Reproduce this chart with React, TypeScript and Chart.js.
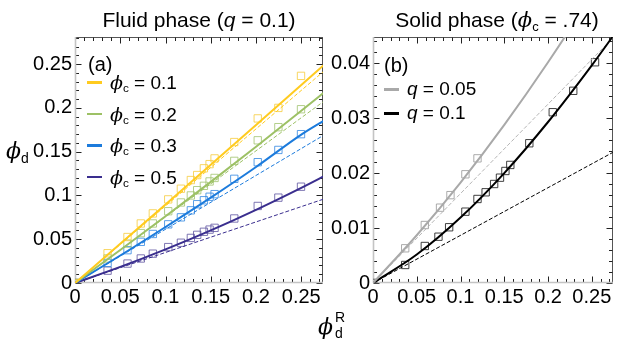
import React, { useEffect, useRef } from "react";
import { Chart, registerables } from "chart.js";

Chart.register(...registerables);

const FONT = '"Liberation Sans", Arial, sans-serif';

// ---------- Panel (a): fluid phase ----------
const xFluid = [0, 0.036, 0.058, 0.0727, 0.086, 0.103, 0.117, 0.128, 0.135, 0.1424, 0.1487, 0.1542, 0.176, 0.2019, 0.2247, 0.2497];
const yPhiC01 = [0, 0.034, 0.0525, 0.068, 0.0795, 0.0955, 0.1077, 0.1176, 0.1233, 0.131, 0.1358, 0.1423, 0.161, 0.188, 0.2, 0.2366];
const yPhiC02 = [0, 0.028, 0.045, 0.057, 0.068, 0.082, 0.092, 0.1, 0.106, 0.111, 0.116, 0.12, 0.1395, 0.163, 0.178, 0.1985];
const yPhiC03 = [0, 0.023, 0.0375, 0.047, 0.056, 0.067, 0.075, 0.083, 0.09, 0.0945, 0.0985, 0.1015, 0.119, 0.138, 0.152, 0.17];
const yPhiC05 = [0, 0.0141, 0.0222, 0.028, 0.0335, 0.041, 0.046, 0.0515, 0.055, 0.0585, 0.061, 0.063, 0.0737, 0.088, 0.0975, 0.11];

const xFitA = [0, 0.05, 0.1, 0.15, 0.2, 0.25, 0.28];
const fitPhiC01 = [0, 0.0448, 0.0898, 0.135, 0.1805, 0.2262, 0.2537];
const fitPhiC02 = [0, 0.0377, 0.0762, 0.1155, 0.1557, 0.1967, 0.2217];
const fitPhiC03 = [0, 0.0314, 0.064, 0.0975, 0.1325, 0.1695, 0.1885];
const fitPhiC05 = [0, 0.01835, 0.0384, 0.0601, 0.0836, 0.1087, 0.1246];

const xLin = [0, 0.28];
const linPhiC01 = [0, 0.2464];
const linPhiC02 = [0, 0.2114];
const linPhiC03 = [0, 0.172];
const linPhiC05 = [0, 0.0977];

// ---------- Panel (b): solid phase ----------
const xSolid = [0, 0.0368, 0.0592, 0.0748, 0.087, 0.1056, 0.1194, 0.1287, 0.1384, 0.1451, 0.1513, 0.1569, 0.1786, 0.2054, 0.2288, 0.2537];
const yQ01 = [0, 0.00328, 0.00674, 0.00843, 0.01015, 0.01299, 0.0153, 0.01652, 0.01803, 0.01918, 0.0204, 0.0215, 0.02545, 0.0311, 0.035, 0.0402];
const xQ005 = [0, 0.0368, 0.0592, 0.0766, 0.0885, 0.1056, 0.1194];
const yQ005 = [0, 0.00632, 0.01056, 0.01372, 0.016, 0.0198, 0.0227];

const xFitB = [0, 0.05, 0.1, 0.15, 0.2, 0.25, 0.28];
const fitQ01 = [0, 0.00518, 0.01192, 0.02002, 0.02932, 0.03964, 0.04625];
const fitQ005 = [0, 0.0087, 0.0183, 0.0288, 0.0402, 0.0525, 0.0606];
const linQ01 = [0, 0.0243];
const linQ005 = [0, 0.0456];

const COLORS = {
  c01: "#FFCB1F",
  c02: "#9DC165",
  c03: "#1C7BDC",
  c05: "#3A2E8E",
  c01m: "rgba(246,204,60,0.8)",
  c02m: "rgba(160,195,110,0.8)",
  c03m: "rgba(50,135,225,0.8)",
  c05m: "rgba(95,85,160,0.8)",
  gray: "#A9A9A9",
  grayDash: "#B5B5B5",
  grayM: "rgba(150,150,150,0.8)",
  black: "#000000",
  blackM: "rgba(30,30,30,0.85)",
};

const pts = (xs: number[], ys: number[]) => xs.map((x, i) => ({ x, y: ys[i] }));

function scatterDs(xs: number[], ys: number[], color: string) {
  return {
    type: "scatter" as const,
    data: pts(xs, ys),
    showLine: false,
    pointStyle: "rect",
    pointRadius: 5.2,
    pointBorderWidth: 1,
    pointBorderColor: color,
    pointBackgroundColor: "rgba(0,0,0,0)",
    order: 2,
  };
}

function lineDs(xs: number[], ys: number[], color: string, width: number, dash: number[], smooth: boolean) {
  return {
    type: "line" as const,
    data: pts(xs, ys),
    borderColor: color,
    borderWidth: width,
    borderDash: dash,
    pointRadius: 0,
    fill: false,
    tension: 0,
    cubicInterpolationMode: smooth ? "monotone" : "default",
    order: 1,
  };
}

const fmt = (v: any) => String(Number(Number(v).toFixed(4)));

const framePlugin = {
  id: "frame",
  beforeDatasetsDraw(chart: any, _args: any, opts: any) {
    const { ctx, chartArea: a, scales } = chart;
    const xs = scales.x;
    const ys = scales.y;
    const L = Math.round(a.left) + 0.5;
    const R = Math.round(a.right) - 0.5;
    const T = Math.round(a.top) + 0.5;
    const B = Math.round(a.bottom) - 0.5;
    ctx.save();
    ctx.strokeStyle = "#555";
    ctx.lineWidth = 1;
    ctx.strokeRect(L, T, R - L, B - T);
    ctx.strokeStyle = "#222";
    const drawTicks = (scale: any, minor: number, major: number, max: number, horiz: boolean) => {
      const n = Math.floor(max / minor + 1e-6);
      for (let i = 0; i <= n; i++) {
        const v = i * minor;
        const isMajor = Math.abs(v / major - Math.round(v / major)) < 1e-6;
        const len = isMajor ? 6 : 3.5;
        const p = Math.round(scale.getPixelForValue(v)) + 0.5;
        ctx.beginPath();
        if (horiz) {
          ctx.moveTo(p, B); ctx.lineTo(p, B - len);
          ctx.moveTo(p, T); ctx.lineTo(p, T + len);
        } else {
          ctx.moveTo(L, p); ctx.lineTo(L + len, p);
          ctx.moveTo(R, p); ctx.lineTo(R - len, p);
        }
        ctx.stroke();
      }
    };
    drawTicks(xs, opts.xMinor, opts.xMajor, xs.max, true);
    drawTicks(ys, opts.yMinor, opts.yMajor, ys.max, false);
    ctx.strokeStyle = "#C4C4C4";
    ctx.lineWidth = 1.6;
    const x0 = xs.getPixelForValue(0);
    const y0 = ys.getPixelForValue(0);
    ctx.beginPath();
    ctx.moveTo(x0 + 0.5, a.top);
    ctx.lineTo(x0 + 0.5, a.bottom);
    ctx.moveTo(a.left, y0 - 0.5);
    ctx.lineTo(a.right, y0 - 0.5);
    ctx.stroke();
    ctx.restore();
  },
};

function makeOptions(p: {
  padRight: number; yWidth: number; xMax: number; yMax: number; yStep: number;
  xMinor: number; xMajor: number; yMinor: number; yMajor: number;
}) {
  const tickFont = { family: FONT, size: 20 };
  return {
    animation: false,
    responsive: false,
    maintainAspectRatio: false,
    devicePixelRatio: 1,
    events: [],
    layout: { padding: { top: 37, right: p.padRight, left: 0, bottom: 0 } },
    plugins: {
      legend: { display: false },
      tooltip: { enabled: false },
      title: { display: false },
      frame: { xMinor: p.xMinor, xMajor: p.xMajor, yMinor: p.yMinor, yMajor: p.yMajor },
    },
    scales: {
      x: {
        type: "linear",
        min: 0,
        max: p.xMax,
        border: { display: false },
        grid: { display: false, drawTicks: false },
        ticks: {
          stepSize: 0.05,
          includeBounds: false,
          callback: fmt,
          color: "#000",
          font: tickFont,
          padding: 2,
          maxRotation: 0,
          autoSkip: false,
        },
        afterFit: (s: any) => { s.height = 58; },
      },
      y: {
        type: "linear",
        min: 0,
        max: p.yMax,
        border: { display: false },
        grid: { display: false, drawTicks: false },
        ticks: {
          stepSize: p.yStep,
          includeBounds: false,
          callback: fmt,
          color: "#000",
          font: tickFont,
          padding: 3,
          autoSkip: false,
        },
        afterFit: (s: any) => { s.width = p.yWidth; },
      },
    },
  };
}

const Phi = ({ size }: { size?: number }) => (
  <span style={{ fontStyle: "italic", fontFamily: '"DejaVu Serif", serif', fontSize: size }}>ϕ</span>
);

const Sub = ({ t }: { t: string }) => (
  <span style={{ fontSize: "0.62em", position: "relative", top: "0.28em" }}>{t}</span>
);

function LegendRow({ left, y, color, children }: { left: number; y: number; color: string; children: any }) {
  return (
    <>
      <div style={{ position: "absolute", left, top: y - 1, width: 15, height: 2.5, background: color }} />
      <div style={{ position: "absolute", left: left + 23, top: y - 12, height: 24, lineHeight: "24px", fontSize: 19, whiteSpace: "nowrap" }}>
        {children}
      </div>
    </>
  );
}

export default function App() {
  const refA = useRef<HTMLCanvasElement>(null);
  const refB = useRef<HTMLCanvasElement>(null);

  useEffect(() => {
    const chartA = new Chart(refA.current as HTMLCanvasElement, {
      type: "scatter",
      data: {
        datasets: [
          lineDs(xFitA, fitPhiC01, COLORS.c01, 2, [], true),
          lineDs(xFitA, fitPhiC02, COLORS.c02, 2, [], true),
          lineDs(xFitA, fitPhiC03, COLORS.c03, 2, [], true),
          lineDs(xFitA, fitPhiC05, COLORS.c05, 2, [], true),
          lineDs(xLin, linPhiC01, COLORS.c01, 1, [4, 2], false),
          lineDs(xLin, linPhiC02, COLORS.c02, 1, [4, 2], false),
          lineDs(xLin, linPhiC03, COLORS.c03, 1, [4, 2], false),
          lineDs(xLin, linPhiC05, COLORS.c05, 1, [4, 2], false),
          scatterDs(xFluid, yPhiC01, COLORS.c01m),
          scatterDs(xFluid, yPhiC02, COLORS.c02m),
          scatterDs(xFluid, yPhiC03, COLORS.c03m),
          scatterDs(xFluid, yPhiC05, COLORS.c05m),
        ] as any,
      },
      options: makeOptions({
        padRight: 7, yWidth: 75, xMax: 0.274, yMax: 0.281, yStep: 0.05,
        xMinor: 0.01, xMajor: 0.05, yMinor: 0.01, yMajor: 0.05,
      }) as any,
      plugins: [framePlugin],
    });

    const chartB = new Chart(refB.current as HTMLCanvasElement, {
      type: "scatter",
      data: {
        datasets: [
          lineDs(xFitB, fitQ005, COLORS.gray, 2, [], true),
          lineDs(xFitB, fitQ01, COLORS.black, 2, [], true),
          lineDs(xLin, linQ005, COLORS.grayDash, 1, [4, 2], false),
          lineDs(xLin, linQ01, COLORS.black, 1, [4, 2], false),
          scatterDs(xQ005, yQ005, COLORS.grayM),
          scatterDs(xSolid, yQ01, COLORS.blackM),
        ] as any,
      },
      options: makeOptions({
        padRight: 1, yWidth: 43, xMax: 0.274, yMax: 0.0448, yStep: 0.01,
        xMinor: 0.01, xMajor: 0.05, yMinor: 0.002, yMajor: 0.01,
      }) as any,
      plugins: [framePlugin],
    });

    return () => {
      chartA.destroy();
      chartB.destroy();
    };
  }, []);

  return (
    <div style={{ position: "absolute", left: 0, top: 0, width: 619, height: 341, background: "#fff", fontFamily: FONT, color: "#000", overflow: "hidden" }}>
      <canvas ref={refA} width={330} height={341} style={{ position: "absolute", left: 0, top: 0, width: 330, height: 341 }} />
      <canvas ref={refB} width={289} height={341} style={{ position: "absolute", left: 330, top: 0, width: 289, height: 341 }} />

      <div style={{ position: "absolute", left: 199, top: 7, transform: "translateX(-50%)", fontSize: 21, lineHeight: "26px", whiteSpace: "nowrap" }}>
        Fluid phase (<i>q</i> = 0.1)
      </div>
      <div style={{ position: "absolute", left: 497, top: 7, transform: "translateX(-50%)", fontSize: 21, lineHeight: "26px", whiteSpace: "nowrap" }}>
        Solid phase (<Phi /><Sub t="c" /> = .74)
      </div>

      <div style={{ position: "absolute", left: 88, top: 52, fontSize: 20, lineHeight: "24px" }}>(a)</div>
      <div style={{ position: "absolute", left: 384, top: 53, fontSize: 20, lineHeight: "24px" }}>(b)</div>

      <LegendRow left={87} y={82} color={COLORS.c01}><Phi /><Sub t="c" /> = 0.1</LegendRow>
      <LegendRow left={87} y={113.5} color={COLORS.c02}><Phi /><Sub t="c" /> = 0.2</LegendRow>
      <LegendRow left={87} y={145} color={COLORS.c03}><Phi /><Sub t="c" /> = 0.3</LegendRow>
      <LegendRow left={87} y={176.5} color={COLORS.c05}><Phi /><Sub t="c" /> = 0.5</LegendRow>

      <LegendRow left={384} y={89} color={COLORS.gray}><i>q</i> = 0.05</LegendRow>
      <LegendRow left={384} y={113} color={COLORS.black}><i>q</i> = 0.1</LegendRow>

      <div style={{ position: "absolute", left: 6, top: 138, fontSize: 22, lineHeight: "26px", whiteSpace: "nowrap" }}>
        <Phi /><span style={{ fontSize: 14, position: "relative", top: 5 }}>d</span>
      </div>
      <div style={{ position: "absolute", left: 318, top: 314, fontSize: 22, lineHeight: "26px", whiteSpace: "nowrap" }}>
        <Phi />
        <span style={{ position: "absolute", left: 17, top: -4, fontSize: 14, lineHeight: "14px" }}>R</span>
        <span style={{ position: "absolute", left: 17, top: 12, fontSize: 14, lineHeight: "14px" }}>d</span>
      </div>
    </div>
  );
}
